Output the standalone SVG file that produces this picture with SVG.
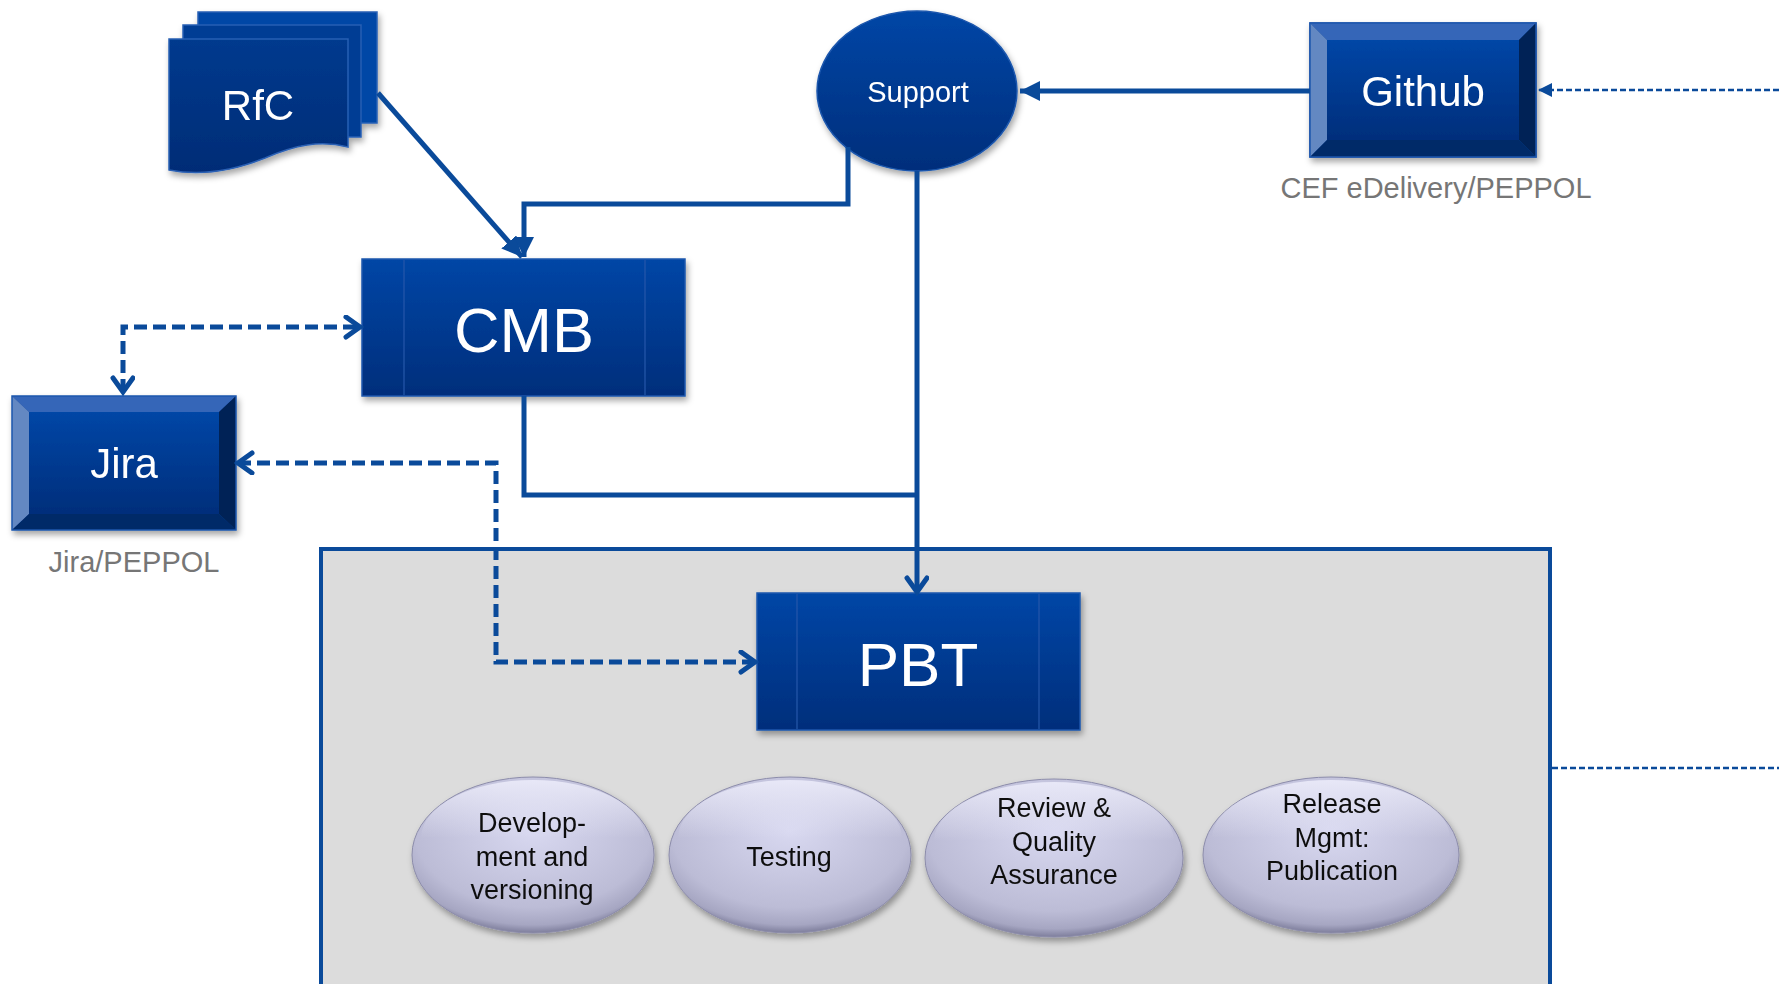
<svg xmlns="http://www.w3.org/2000/svg" width="1779" height="984" viewBox="0 0 1779 984">
<defs>
<linearGradient id="gBlue" x1="0" y1="0" x2="0" y2="1">
<stop offset="0" stop-color="#0046a6"/>
<stop offset="1" stop-color="#002e7b"/>
</linearGradient>
<linearGradient id="gPage" x1="0" y1="0" x2="0" y2="1">
<stop offset="0" stop-color="#033a8e"/>
<stop offset="1" stop-color="#022c76"/>
</linearGradient>
<radialGradient id="gBubble" cx="0.5" cy="0.35" r="0.65">
<stop offset="0" stop-color="#d8d8f0"/>
<stop offset="0.75" stop-color="#bcbcd6"/>
<stop offset="0.92" stop-color="#a6a6c2"/>
<stop offset="1" stop-color="#7e7e9c"/>
</radialGradient>
<linearGradient id="gBubbleTop" x1="0" y1="0" x2="0" y2="1">
<stop offset="0" stop-color="#ececfa" stop-opacity="0.9"/>
<stop offset="0.5" stop-color="#ececfa" stop-opacity="0"/>
</linearGradient>
<filter id="shadow" x="-10%" y="-10%" width="125%" height="130%">
<feDropShadow dx="2" dy="4" stdDeviation="3" flood-color="#000" flood-opacity="0.35"/>
</filter>
<marker id="chev" markerUnits="userSpaceOnUse" markerWidth="24" markerHeight="28" refX="17" refY="12" orient="auto" viewBox="0 0 24 28">
<path d="M3,2 L17,12 L3,22" fill="none" stroke="#0a4a9a" stroke-width="5" stroke-linejoin="miter" stroke-linecap="round"/>
</marker>
<marker id="chevStart" markerUnits="userSpaceOnUse" markerWidth="24" markerHeight="28" refX="17" refY="12" orient="auto-start-reverse" viewBox="0 0 24 28">
<path d="M3,2 L17,12 L3,22" fill="none" stroke="#0a4a9a" stroke-width="5" stroke-linejoin="miter" stroke-linecap="round"/>
</marker>
<marker id="tri" markerUnits="userSpaceOnUse" markerWidth="24" markerHeight="24" refX="20" refY="10" orient="auto" viewBox="0 0 24 24">
<path d="M0,0 L20,10 L0,20 Z" fill="#0a4a9a"/>
</marker>
<marker id="triSmall" markerUnits="userSpaceOnUse" markerWidth="16" markerHeight="16" refX="14" refY="7" orient="auto" viewBox="0 0 16 16">
<path d="M0,0 L14,7 L0,14 Z" fill="#0a4a9a"/>
</marker>
</defs>
<style>
.box{fill:url(#gBlue);stroke:#1c57ad;stroke-width:1.5}
.inner{stroke:#1f58aa;stroke-width:1.2}
.wt{font-family:"Liberation Sans",Arial,sans-serif;fill:#ffffff;text-anchor:middle}
.gt{font-family:"Liberation Sans",Arial,sans-serif;fill:#767676;text-anchor:middle;font-size:29px}
.bt{font-family:"Liberation Sans",Arial,sans-serif;fill:#111111;text-anchor:middle;font-size:27px}
.solid{fill:none;stroke:#0a4a9a;stroke-width:5}
.dash{fill:none;stroke:#0a4a9a;stroke-width:5;stroke-dasharray:13 6}
.thin{fill:none;stroke:#0a4a9a;stroke-width:2.5;stroke-dasharray:6 3}
.bub{fill:url(#gBubble);stroke:#8c8caa;stroke-width:1}
</style>

<g id="container">
<rect x="321" y="549" width="1229" height="450" fill="#dcdcdc" stroke="#0a4a9a" stroke-width="4"/>
</g>

<g id="rfc" filter="url(#shadow)">
<rect x="198" y="12" width="179" height="111" fill="#0247a6" stroke="#2a60b4" stroke-width="1.5"/>
<rect x="183" y="25" width="178" height="112" fill="#023c94" stroke="#2a60b4" stroke-width="1.5"/>
<path d="M169,39 H348 V147 C320,140 295,145 265,158 C230,172 200,176 169,170 Z" fill="url(#gPage)" stroke="#2a60b4" stroke-width="1.5"/>
<text class="wt" x="258" y="120" font-size="42">RfC</text>
</g>

<g id="support" filter="url(#shadow)">
<ellipse cx="917" cy="91" rx="100" ry="80" fill="url(#gBlue)" stroke="#1c57ad" stroke-width="1.5"/>
<text class="wt" x="918" y="102" font-size="29">Support</text>
</g>

<g id="github" filter="url(#shadow)">
<rect x="1310" y="23" width="226" height="134" fill="#0a3f96" stroke="#1c57ad" stroke-width="1.5"/>
<path d="M1310,23 H1536 L1519,40 H1327 Z" fill="#3566b8"/>
<path d="M1310,23 L1327,40 V140 L1310,157 Z" fill="#6488c2"/>
<path d="M1536,23 L1519,40 V140 L1536,157 Z" fill="#032457"/>
<path d="M1310,157 L1327,140 H1519 L1536,157 Z" fill="#042a68"/>
<rect x="1327" y="40" width="192" height="100" fill="url(#gBlue)"/>
<rect x="1310" y="23" width="226" height="134" fill="none" stroke="#1c57ad" stroke-width="1.5"/>
<text class="wt" x="1423" y="106" font-size="42">Github</text>
</g>
<text class="gt" x="1436" y="198">CEF eDelivery/PEPPOL</text>

<g id="cmb" filter="url(#shadow)">
<rect class="box" x="362" y="259" width="323" height="137"/>
<line class="inner" x1="404" y1="260" x2="404" y2="395"/>
<line class="inner" x1="645" y1="260" x2="645" y2="395"/>
<text class="wt" x="524" y="352" font-size="63">CMB</text>
</g>

<g id="jira" filter="url(#shadow)">
<rect x="12" y="396" width="224" height="134" fill="#0a3f96"/>
<path d="M12,396 H236 L219,412 H29 Z" fill="#3566b8"/>
<path d="M12,396 L29,412 V514 L12,530 Z" fill="#6488c2"/>
<path d="M236,396 L219,412 V514 L236,530 Z" fill="#032457"/>
<path d="M12,530 L29,514 H219 L236,530 Z" fill="#042a68"/>
<rect x="29" y="412" width="190" height="102" fill="url(#gBlue)"/>
<rect x="12" y="396" width="224" height="134" fill="none" stroke="#1c57ad" stroke-width="1.5"/>
<text class="wt" x="124" y="478" font-size="42">Jira</text>
</g>
<text class="gt" x="134" y="572">Jira/PEPPOL</text>

<g id="pbt" filter="url(#shadow)">
<rect class="box" x="757" y="593" width="323" height="137"/>
<line class="inner" x1="797" y1="594" x2="797" y2="729"/>
<line class="inner" x1="1039" y1="594" x2="1039" y2="729"/>
<text class="wt" x="918" y="686" font-size="62">PBT</text>
</g>

<g id="bubble-dev" filter="url(#shadow)">
<ellipse class="bub" cx="533" cy="855" rx="121" ry="78"/>
<ellipse cx="533" cy="838" rx="112" ry="58" fill="url(#gBubbleTop)"/>
<text class="bt" x="532" y="832">Develop-</text>
<text class="bt" x="532" y="866">ment and</text>
<text class="bt" x="532" y="899">versioning</text>
</g>
<g id="bubble-test" filter="url(#shadow)">
<ellipse class="bub" cx="790" cy="855" rx="121" ry="78"/>
<ellipse cx="790" cy="838" rx="112" ry="58" fill="url(#gBubbleTop)"/>
<text class="bt" x="789" y="866">Testing</text>
</g>
<g id="bubble-review" filter="url(#shadow)">
<ellipse class="bub" cx="1054" cy="858" rx="129" ry="79"/>
<ellipse cx="1054" cy="841" rx="120" ry="59" fill="url(#gBubbleTop)"/>
<text class="bt" x="1054" y="817">Review &amp;</text>
<text class="bt" x="1054" y="851">Quality</text>
<text class="bt" x="1054" y="884">Assurance</text>
</g>
<g id="bubble-release" filter="url(#shadow)">
<ellipse class="bub" cx="1331" cy="855" rx="128" ry="78"/>
<ellipse cx="1331" cy="838" rx="119" ry="58" fill="url(#gBubbleTop)"/>
<text class="bt" x="1332" y="813">Release</text>
<text class="bt" x="1332" y="847">Mgmt:</text>
<text class="bt" x="1332" y="880">Publication</text>
</g>

<g id="connectors">
<path class="solid" d="M1310,91 H1020" marker-end="url(#tri)"/>
<path class="thin" d="M1779,90 H1538" marker-end="url(#triSmall)"/>
<path class="thin" d="M1552,768 H1779"/>
<path class="solid" d="M378,93 L522,257" marker-end="url(#tri)"/>
<path class="solid" d="M848,147 V204 H524 V257" marker-end="url(#tri)"/>
<path class="solid" d="M917,171 V592" marker-end="url(#chev)"/>
<path class="solid" d="M524,396 V495 H917"/>
<path class="dash" d="M123,392 V327 H360" marker-start="url(#chevStart)" marker-end="url(#chev)"/>
<path class="dash" d="M238,463 H496 V662 H755" marker-start="url(#chevStart)" marker-end="url(#chev)"/>
</g>
</svg>
